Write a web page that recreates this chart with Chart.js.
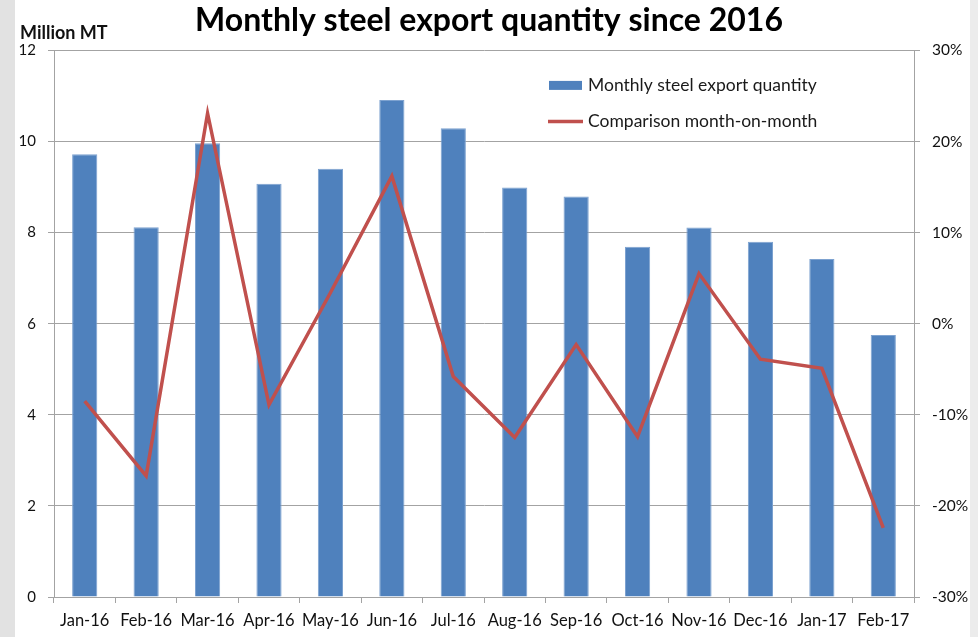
<!DOCTYPE html>
<html>
<head>
<meta charset="utf-8">
<script src="https://cdn.jsdelivr.net/npm/chart.js@4"></script>
<style>
  body {
    margin: 0;
    background: linear-gradient(to right, #e2e2e2 0, #e2e2e2 15px, #ffffff 15px, #ffffff 970px, #ececec 970px);
  }
  canvas { display: block; }
</style>
</head>
<body>
<canvas id="steel" width="978" height="637"></canvas>
<script>
const months = [
  "Jan-16", "Feb-16", "Mar-16", "Apr-16", "May-16", "Jun-16", "Jul-16",
  "Aug-16", "Sep-16", "Oct-16", "Nov-16", "Dec-16", "Jan-17", "Feb-17",
];

// million MT
const exportQty = [9.72, 8.12, 9.96, 9.07, 9.40, 10.91, 10.29, 8.99, 8.79, 7.69, 8.11, 7.80, 7.42, 5.75];

// month-on-month change, %
const momChange = [-8.5, -16.7, 23.1, -8.9, 3.4, 16.2, -5.8, -12.5, -2.3, -12.4, 5.5, -3.9, -4.9, -22.4];

const FONT = "Lato, 'Open Sans', 'Liberation Sans', sans-serif";
const GRID = "#a3a3a3";

// legend sits inside the plot, top right, like the excel original
const insideLegend = {
  id: "insideLegend",
  afterDraw(chart) {
    const ctx = chart.ctx;
    const left = chart.chartArea.left + 495;
    const top = chart.chartArea.top;
    ctx.save();
    ctx.font = "17.5px " + FONT;
    ctx.textBaseline = "middle";
    chart.data.datasets.forEach((ds, i) => {
      const y = top + 35 + i * 36;
      if (ds.type === "line") {
        ctx.strokeStyle = ds.borderColor;
        ctx.lineWidth = 3.5;
        ctx.beginPath();
        ctx.moveTo(left - 1, y);
        ctx.lineTo(left + 34, y);
        ctx.stroke();
      } else {
        ctx.fillStyle = ds.backgroundColor;
        ctx.fillRect(left, y - 4.5, 33, 9);
      }
      ctx.fillStyle = "#1a1a1a";
      ctx.fillText(ds.label, left + 39, y);
    });
    // unit label above the left axis
    ctx.font = "bold 18px " + FONT;
    ctx.fillStyle = "#111";
    ctx.fillText("Million MT", 20, 33);
    ctx.restore();
  },
};

const config = {
  data: {
    labels: months,
    datasets: [
      {
        type: "bar",
        label: "Monthly steel export quantity",
        data: exportQty,
        backgroundColor: "#4f81bd",
        borderColor: "#7da2d0",
        borderWidth: 1,
        barPercentage: 0.41,
        categoryPercentage: 1.0,
        yAxisID: "y",
        order: 1,
      },
      {
        type: "line",
        label: "Comparison month-on-month",
        data: momChange,
        borderColor: "#c0504d",
        borderWidth: 3.5,
        pointRadius: 0,
        tension: 0,
        yAxisID: "y1",
        order: 0,
      },
    ],
  },
  options: {
    responsive: false,
    animation: false,
    layout: { padding: 0 },
    plugins: {
      legend: { display: false },
      tooltip: { enabled: false },
      title: {
        display: true,
        text: "Monthly steel export quantity since 2016",
        color: "#000",
        font: { family: FONT, size: 32, weight: "bold" },
        padding: { top: 1, bottom: 11 },
      },
    },
    scales: {
      x: {
        offset: true,
        grid: { offset: true, drawOnChartArea: false, color: GRID, tickLength: 6 },
        border: { color: GRID },
        ticks: {
          color: "#111",
          font: { family: FONT, size: 16.5 },
          padding: 8,
          maxRotation: 0,
          autoSkip: false,
        },
        afterFit: (s) => { s.height = 40; },
      },
      y: {
        position: "left",
        min: 0,
        max: 12,
        ticks: { stepSize: 2, color: "#111", font: { family: FONT, size: 15 }, padding: 12 },
        grid: { color: GRID, tickLength: 6 },
        border: { color: GRID },
        afterFit: (s) => { s.width = 54; },
      },
      y1: {
        position: "right",
        min: -30,
        max: 30,
        ticks: {
          stepSize: 10,
          color: "#111",
          font: { family: FONT, size: 15.5 },
          padding: 12,
          callback: (v) => v + "%",
        },
        grid: { drawOnChartArea: false, color: GRID, tickLength: 6 },
        border: { color: GRID },
        afterFit: (s) => { s.width = 64; },
      },
    },
  },
  plugins: [insideLegend],
};

const steelChart = new Chart(document.getElementById("steel"), config);
</script>
</body>
</html>
